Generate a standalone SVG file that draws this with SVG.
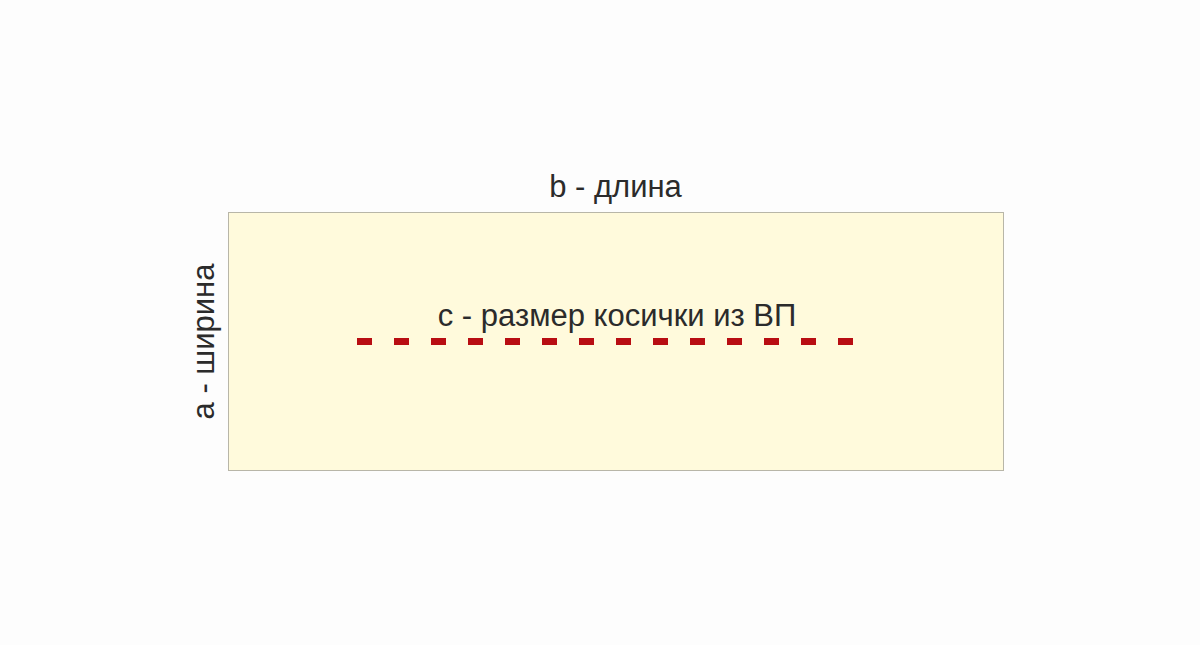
<svg xmlns="http://www.w3.org/2000/svg" width="1200" height="645" viewBox="0 0 1200 645">
<style>
.lbl{font-family:"Liberation Sans",Arial,sans-serif;font-size:31px;fill:#2b2b2b}
</style>
<rect x="0" y="0" width="1200" height="645" fill="#fdfdfd"/>
<g id="sheet">
<rect x="228.5" y="212.5" width="775" height="258" fill="#fffadc" stroke="#b8b6a8" stroke-width="1"/>
</g>
<g id="label-b"><text class="lbl" x="615.5" y="197" text-anchor="middle">b - длина</text></g>
<g id="label-a"><text class="lbl" transform="translate(214,341.5) rotate(-90)" text-anchor="middle">a - ширина</text></g>
<g id="label-c"><text class="lbl" x="617" y="326" text-anchor="middle">c - размер косички из ВП</text></g>
<g id="connectors">
<line x1="357" y1="341.5" x2="853" y2="341.5" stroke="#b80d12" stroke-width="7" stroke-dasharray="15 22"/>
</g>
</svg>
